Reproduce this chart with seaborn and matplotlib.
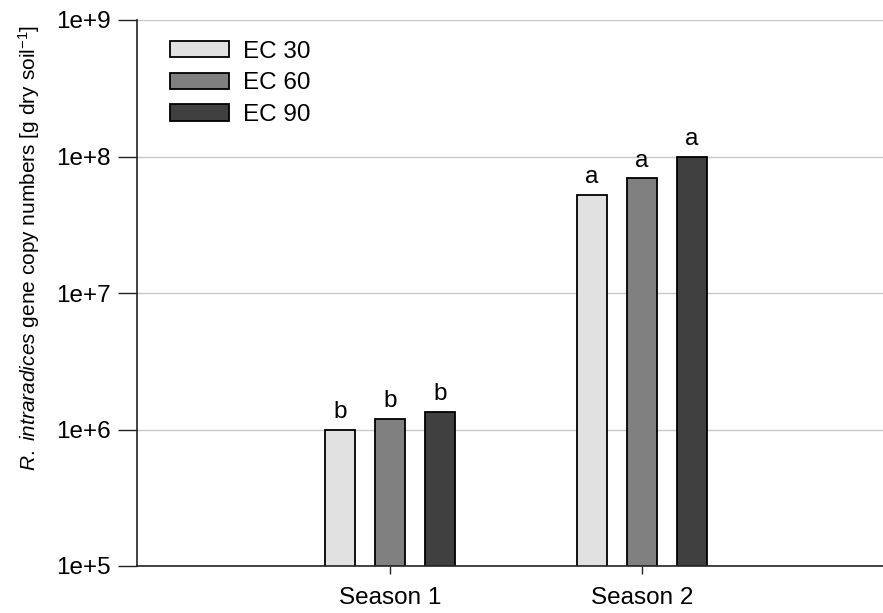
import numpy as np
import pandas as pd
import seaborn as sns
import matplotlib
matplotlib.use("Agg")
import matplotlib.pyplot as plt
from matplotlib.ticker import FixedLocator, FixedFormatter, NullLocator

# Gene copy numbers per gram dry soil
seasons = ["Season 1", "Season 2"]
treatments = ["EC 30", "EC 60", "EC 90"]
season1_values = [9.9e5, 1.2e6, 1.35e6]
season2_values = [5.2e7, 6.9e7, 1.0e8]
season1_letters = ["b", "b", "b"]
season2_letters = ["a", "a", "a"]
bar_colors = ["#e1e1e1", "#808080", "#404040"]
ytick_values = [1e5, 1e6, 1e7, 1e8, 1e9]
ytick_labels = ["1e+5", "1e+6", "1e+7", "1e+8", "1e+9"]

df = pd.DataFrame({
    "season": [s for s in seasons for _ in treatments],
    "treatment": treatments * len(seasons),
    "value": season1_values + season2_values,
    "letter": season1_letters + season2_letters,
})

sns.set_style("white")
plt.rcParams["font.family"] = ["Liberation Sans", "DejaVu Sans"]
plt.rcParams["mathtext.fontset"] = "custom"
plt.rcParams["mathtext.rm"] = "Liberation Sans"
plt.rcParams["mathtext.it"] = "Liberation Sans:italic"
plt.rcParams["text.color"] = "black"
plt.rcParams["axes.labelcolor"] = "black"
plt.rcParams["xtick.color"] = "black"
plt.rcParams["ytick.color"] = "black"

fig = plt.figure(figsize=(8.83, 6.13), dpi=100)
ax = fig.add_axes([137 / 883, 1 - 566 / 613, 1 - 137 / 883, (566 - 20) / 613])

sns.barplot(
    data=df, x="season", y="value", hue="treatment",
    order=seasons, hue_order=treatments, palette=bar_colors,
    width=0.595, gap=0.4, edgecolor="black", linewidth=1.3,
    ax=ax, legend=True, saturation=1,
)

ax.set_yscale("log")
ax.set_ylim(1e5, 1e9)
ax.set_xlim(-1.004, 1.956)
ax.yaxis.set_major_locator(FixedLocator(ytick_values))
ax.yaxis.set_major_formatter(FixedFormatter(ytick_labels))
ax.yaxis.set_minor_locator(NullLocator())
ax.grid(axis="y", color="#c8c8c8", linewidth=1.0)
ax.grid(axis="x", visible=False)
ax.set_axisbelow(True)

for side in ["top", "right"]:
    ax.spines[side].set_visible(False)
for side in ["left", "bottom"]:
    ax.spines[side].set_color("#222222")
    ax.spines[side].set_linewidth(1.2)

ax.tick_params(axis="y", which="major", direction="out", length=14, width=1.0,
               color="#222222", labelsize=17.5, pad=5, left=True)
ax.tick_params(axis="x", which="major", direction="out", length=6, width=1.0,
               color="#222222", labelsize=17.5, pad=9, bottom=True)

ax.set_xlabel("")
ax.set_ylabel(r"$\it{R.\ intraradices}$ gene copy numbers [g dry soil$^{-1}$]",
              fontsize=15)
ax.yaxis.set_label_coords(-0.127, 0.582)

# Significance letters above each bar
for container, tr in zip(ax.containers, treatments):
    sub = df[df["treatment"] == tr].set_index("season").loc[seasons]
    for patch, letter in zip(container.patches, sub["letter"]):
        x = patch.get_x() + patch.get_width() / 2
        ax.annotate(letter, (x, patch.get_height()), xytext=(0, 5),
                    textcoords="offset points", ha="center", va="bottom",
                    fontsize=17.5)

leg = ax.legend(loc="upper left", bbox_to_anchor=(0.031, 0.98), frameon=False,
                fontsize=17.5, handlelength=2.45, handleheight=0.66,
                handletextpad=0.55, labelspacing=0.4, borderaxespad=0)
for h in leg.legend_handles:
    h.set_edgecolor("black")
    h.set_linewidth(1.3)

fig.savefig("out.png", dpi=100)
